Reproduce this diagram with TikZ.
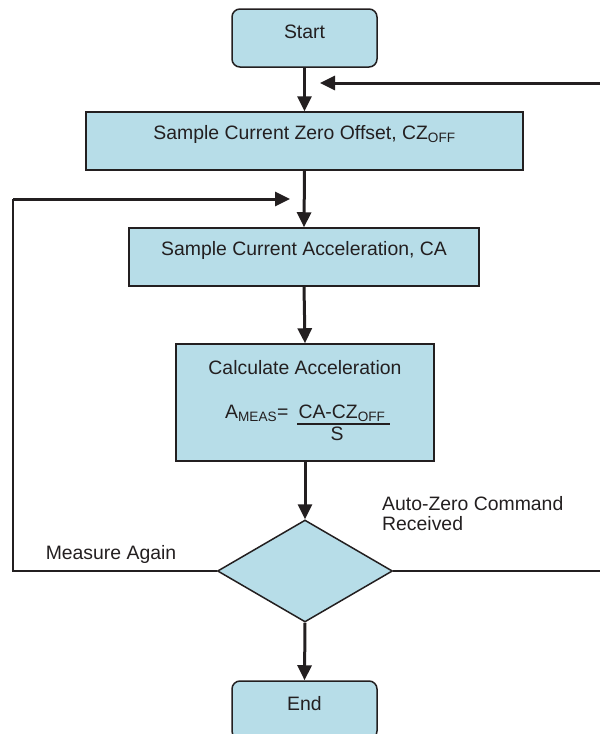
\documentclass[tikz,border=0pt]{standalone}
\usepackage{fontspec}
\setmainfont{Liberation Sans}
\usepackage{tikz}
\usetikzlibrary{arrows.meta,shapes.geometric}
\definecolor{boxblue}{RGB}{183,221,232}
\definecolor{ink}{RGB}{35,31,32}

\begin{document}
\begin{tikzpicture}[x=1pt,y=-1pt,
    every node/.style={font=\fontsize{19.4}{20}\selectfont, text=ink},
    termbox/.style={draw=ink, fill=boxblue, line width=1.5pt, rounded corners=8pt,
        minimum width=145pt, minimum height=58pt, inner sep=0pt, text height=13.6pt, text depth=13pt},
    procbox/.style={draw=ink, fill=boxblue, line width=1.5pt, minimum height=58pt,
        inner sep=0pt, text height=13.6pt, text depth=17pt},
    decision/.style={diamond, draw=ink, fill=boxblue, line width=1.5pt,
        minimum width=175pt, minimum height=102pt, inner sep=0pt},
    flow/.style={draw=ink, line width=3pt, -{Triangle[length=15pt,width=14pt]}},
    wire/.style={draw=ink, line width=1.2pt}]
    \useasboundingbox (0,0) rectangle (600,734);

    \node (start) [termbox] at (304.5,38) {Start};
    \node (czoff) [procbox, minimum width=437pt] at (304.5,141) {Sample Current Zero Offset, CZ\textsubscript{OFF}};
    \node (casample) [procbox, minimum width=350pt] at (304,257) {Sample Current Acceleration, CA};
    \node (calc) [procbox, minimum width=258pt, minimum height=117pt] at (305,402.5) {};
    \node (calctitle) [anchor=base] at (305,374) {Calculate Acceleration};
    \node (ameas) [anchor=base west, inner sep=0pt] at (225,418) {A\textsubscript{MEAS}=};
    \node (num) [anchor=base, inner sep=0pt] at (342,418) {CA-CZ\textsubscript{OFF}};
    \node (den) [anchor=base, inner sep=0pt] at (337,440) {S};
    \draw[ink, line width=1.3pt] (297,424) -- (390,424);
    \node (decide) [decision] at (305,571) {};
    \node (endbox) [termbox] at (304.5,710) {End};

    \node (again) [anchor=base] at (111,559) {Measure Again};
    \node (autozero) [anchor=base west, align=left, inner sep=0pt] at (382,530) {Auto-Zero Command\\Received};

    \coordinate (loopbl) at (13,571);
    \coordinate (looptl) at (13,199);
    \coordinate (againtip) at (290,199);
    \coordinate (loopbr) at (601.5,571);
    \coordinate (looptr) at (601.5,83);
    \coordinate (zerotip) at (320,83);

    \draw[flow] (start.south) -- (czoff.north);
    \draw[flow] (czoff.south) -- (casample.north);
    \draw[flow] (casample.south) -- (calc.north);
    \draw[flow] (calc.south) -- (decide.north);
    \draw[flow] (decide.south) -- (endbox.north);

    \draw[wire] (decide.west) -- (loopbl) -- (looptl);
    \draw[flow] (looptl) -- (againtip);
    \draw[wire] (decide.east) -- (loopbr) -- (looptr);
    \draw[flow] (looptr) -- (zerotip);
\end{tikzpicture}
\end{document}
